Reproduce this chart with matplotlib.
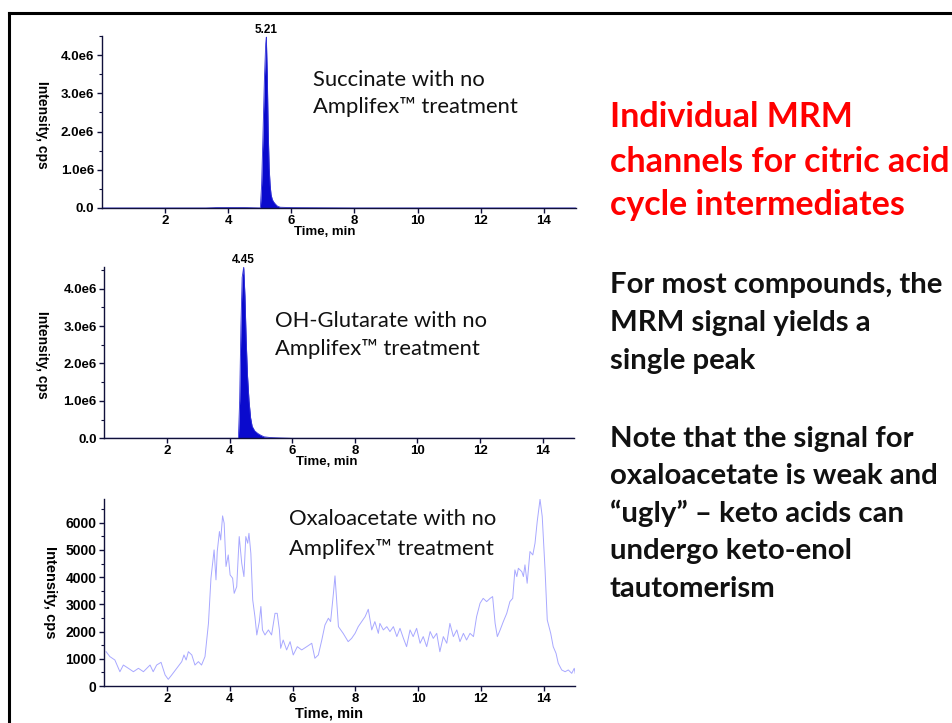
import matplotlib
matplotlib.use('Agg')
from matplotlib import pyplot as plt
from matplotlib.lines import Line2D

# datos (tiempo en min, intensidad en cps)
succ_t = [0.0, 3.3, 3.6, 4.0, 4.6, 5.02, 5.06, 5.10, 5.15, 5.19, 5.21, 5.24, 5.27, 5.30,
          5.33, 5.36, 5.40, 5.45, 5.50, 5.56, 5.65, 6.0, 7.0, 8.0, 15.0]
succ_i = [0, 0, 10000, 15000, 10000, 0, 600000, 1800000, 3400000, 4300000, 4470000, 3500000,
          2000000, 1050000, 600000, 350000, 220000, 150000, 100000, 50000, 20000, 10000, 5000, 0, 0]

ohg_t = [0.0, 4.28, 4.32, 4.36, 4.40, 4.45, 4.49, 4.53, 4.57, 4.62, 4.67, 4.72, 4.80, 4.90,
         5.00, 5.10, 5.30, 5.60, 6.0, 15.0]
ohg_i = [0, 0, 1000000, 3000000, 4300000, 4580000, 3800000, 2600000, 1700000, 1000000, 550000,
         320000, 200000, 130000, 80000, 40000, 20000, 10000, 0, 0]

oxa_t = [0.06, 0.18, 0.34, 0.50, 0.61, 0.77, 0.93, 1.09, 1.25, 1.46, 1.56, 1.67, 1.81, 1.94,
         2.04, 2.15, 2.31, 2.47, 2.54, 2.61, 2.68, 2.79, 2.89, 3.00, 3.10, 3.21, 3.32, 3.40,
         3.50, 3.56, 3.60, 3.67, 3.71, 3.77, 3.82, 3.88, 3.95, 4.01, 4.09, 4.14, 4.22, 4.30,
         4.38, 4.45, 4.51, 4.57, 4.61, 4.67, 4.73, 4.80, 4.86, 4.94, 4.99, 5.04, 5.12, 5.23,
         5.33, 5.44, 5.51, 5.58, 5.62, 5.70, 5.81, 5.92, 6.02, 6.15, 6.29, 6.45, 6.61, 6.71,
         6.82, 6.93, 7.03, 7.14, 7.21, 7.30, 7.35, 7.46, 7.61, 7.77, 7.88, 7.99, 8.09, 8.20,
         8.31, 8.41, 8.52, 8.62, 8.73, 8.78, 8.89, 9.00, 9.10, 9.21, 9.32, 9.42, 9.53, 9.63,
         9.74, 9.84, 9.95, 10.06, 10.16, 10.27, 10.38, 10.48, 10.59, 10.69, 10.80, 10.91,
         11.01, 11.12, 11.23, 11.33, 11.44, 11.54, 11.65, 11.76, 11.86, 11.97, 12.07, 12.18,
         12.29, 12.37, 12.45, 12.52, 12.61, 12.71, 12.82, 12.92, 13.01, 13.08, 13.14, 13.19,
         13.30, 13.35, 13.40, 13.47, 13.56, 13.65, 13.72, 13.79, 13.88, 13.95, 14.04, 14.11,
         14.22, 14.30, 14.39, 14.46, 14.57, 14.68, 14.78, 14.89, 14.97, 15.0]
oxa_i = [1260, 1080, 955, 525, 770, 650, 525, 650, 525, 770, 525, 770, 870, 405,
         245, 405, 650, 895, 1140, 955, 1260, 1140, 770, 895, 770, 1080, 2300, 3960,
         5000, 3900, 4940, 5675, 5365, 6250, 5980, 4390, 4815, 4080, 3960, 3405, 3650, 5490,
         4510, 4020, 5490, 5245, 5610, 4880, 3160, 2550, 1875, 2365, 2920, 2060, 1875, 2060,
         1875, 2670, 2670, 2060, 1385, 1690, 1325, 1630, 1140, 1445, 1325, 1445, 1570, 1020,
         1140, 1690, 2240, 2490, 2365, 3405, 4045, 2180, 1935, 1630, 1750, 1935, 2180, 2365,
         2550, 2820, 2060, 2365, 1935, 2300, 2060, 2180, 2000, 2180, 1815, 2120, 1750, 1445,
         2060, 1815, 2120, 1570, 1815, 1445, 2000, 1750, 1935, 1260, 1815, 1570,
         2300, 1815, 2060, 1630, 1935, 1690, 1935, 1815, 2550, 3040, 3220, 3100,
         3220, 3285, 2300, 1815, 2060, 2365, 2670, 3100, 3220, 4265, 4020, 4325,
         4200, 4020, 4450, 3775, 4940, 4815, 5245, 6040, 6860, 6225, 4265, 2425,
         1935, 1445, 1200, 835, 590, 525, 590, 465, 650, 465]

x_ticks = [2, 4, 6, 8, 10, 12, 14]
e6_ticks = [0, 1e6, 2e6, 3e6, 4e6]
e6_labels = ['0.0', '1.0e6', '2.0e6', '3.0e6', '4.0e6']
oxa_ticks = [0, 1000, 2000, 3000, 4000, 5000, 6000]
oxa_labels = ['0', '1000', '2000', '3000', '4000', '5000', '6000']

W, H = 952, 723
def fx(x): return x / W
def fy(y): return 1 - y / H

plt.rcParams['font.family'] = ['Liberation Sans', 'DejaVu Sans']
fig = plt.figure(figsize=(9.52, 7.23), dpi=100, facecolor='w')

# marco negro del slide
fig.add_artist(Line2D([fx(8.5), fx(8.5)], [fy(12.5), 0], transform=fig.transFigure, color='k', lw=2.2))
fig.add_artist(Line2D([fx(8.5), 1], [fy(12.5), fy(12.5)], transform=fig.transFigure, color='k', lw=2.2))

def armar_ejes(rect, yticks, ylabels, ymax, minor, lsize):
    ax = fig.add_axes(rect)
    for s in ['top', 'right']:
        ax.spines[s].set_visible(False)
    for s in ['left', 'bottom']:
        ax.spines[s].set_color('#10103a')
        ax.spines[s].set_linewidth(1.0)
    ax.set_xlim(0, 15)
    ax.set_ylim(0, ymax)
    ax.set_xticks(x_ticks)
    ax.set_xticklabels([str(t) for t in x_ticks], fontsize=9.5, fontweight='bold')
    ax.set_yticks(yticks)
    ax.set_yticklabels(ylabels, fontsize=lsize, fontweight='bold')
    ax.set_yticks(minor, minor=True)
    ax.tick_params(axis='both', which='major', length=3.5, width=1, color='#10103a')
    ax.tick_params(axis='y', which='minor', length=2, width=0.8, color='#10103a')
    ax.tick_params(axis='x', pad=1.5)
    ax.tick_params(axis='y', pad=2)
    return ax

# panel 1: succinato
ax1 = armar_ejes([fx(101.8), fy(208), 473.7 / W, 172 / H], e6_ticks, e6_labels, 4.49e6,
                 [0.5e6, 1.5e6, 2.5e6, 3.5e6, 4.5e6], 9.5)
ax1.fill_between(succ_t, succ_i, color='#0a0acd', lw=0)
ax1.plot(succ_t, succ_i, color='#3030d8', lw=0.6)
ax1.text(5.21, 4.49e6, '5.21', ha='center', va='bottom', fontsize=8.5, fontweight='bold')

# panel 2: OH-glutarato
ax2 = armar_ejes([fx(104.4), fy(438.3), 469.6 / W, 171.3 / H], e6_ticks, e6_labels, 4.58e6,
                 [0.5e6, 1.5e6, 2.5e6, 3.5e6, 4.5e6], 9.5)
ax2.fill_between(ohg_t, ohg_i, color='#0a0acd', lw=0)
ax2.plot(ohg_t, ohg_i, color='#3030d8', lw=0.6)
ax2.text(4.45, 4.6e6, '4.45', ha='center', va='bottom', fontsize=8.5, fontweight='bold')

# panel 3: oxaloacetato
ax3 = armar_ejes([fx(104.2), fy(686), 471 / W, 187 / H], oxa_ticks, oxa_labels, 6870,
                 [500, 1500, 2500, 3500, 4500, 5500, 6500], 10)
ax3.plot(oxa_t, oxa_i, color='#a8a8ff', lw=0.7)

# etiquetas de ejes
fig.text(fx(42), fy(125), 'Intensity, cps', rotation=270, ha='center', va='center', fontsize=10, fontweight='bold')
fig.text(fx(42), fy(355), 'Intensity, cps', rotation=270, ha='center', va='center', fontsize=10, fontweight='bold')
fig.text(fx(50), fy(592), 'Intensity, cps', rotation=270, ha='center', va='center', fontsize=10.5, fontweight='bold')
fig.text(fx(325), fy(232), 'Time, min', ha='center', va='center', fontsize=9.5, fontweight='bold')
fig.text(fx(327), fy(462), 'Time, min', ha='center', va='center', fontsize=9.5, fontweight='bold')
fig.text(fx(329), fy(713), 'Time, min', ha='center', va='center', fontsize=10.5, fontweight='bold')

# textos del slide
fam = ['Lato', 'DejaVu Sans']
notas = [(313, 86, 'Succinate with no'), (313, 113, 'Amplifex\u2122 treatment'),
         (275, 327, 'OH-Glutarate with no'), (275, 355, 'Amplifex\u2122 treatment'),
         (289, 525, 'Oxaloacetate with no'), (289, 555, 'Amplifex\u2122 treatment')]
for x, y, s in notas:
    fig.text(fx(x), fy(y), s, ha='left', va='baseline', fontsize=15.8, family=fam, color='#111111')

rojo = [(127, 'Individual MRM'), (172, 'channels for citric acid'), (215, 'cycle intermediates')]
for y, s in rojo:
    fig.text(fx(610), fy(y), s, ha='left', va='baseline', fontsize=24.5, family=fam,
             fontweight='bold', color='#ff0000')

negro = [(293, 'For most compounds, the'), (331, 'MRM signal yields a'), (369, 'single peak'),
         (447, 'Note that the signal for'), (484, 'oxaloacetate is weak and'),
         (522, '\u201cugly\u201d \u2013 keto acids can'), (559, 'undergo keto-enol'), (597, 'tautomerism')]
for y, s in negro:
    fig.text(fx(610), fy(y), s, ha='left', va='baseline', fontsize=21.2, family=fam,
             fontweight='bold', color='#111111')

plt.savefig('out.png', dpi=100)
